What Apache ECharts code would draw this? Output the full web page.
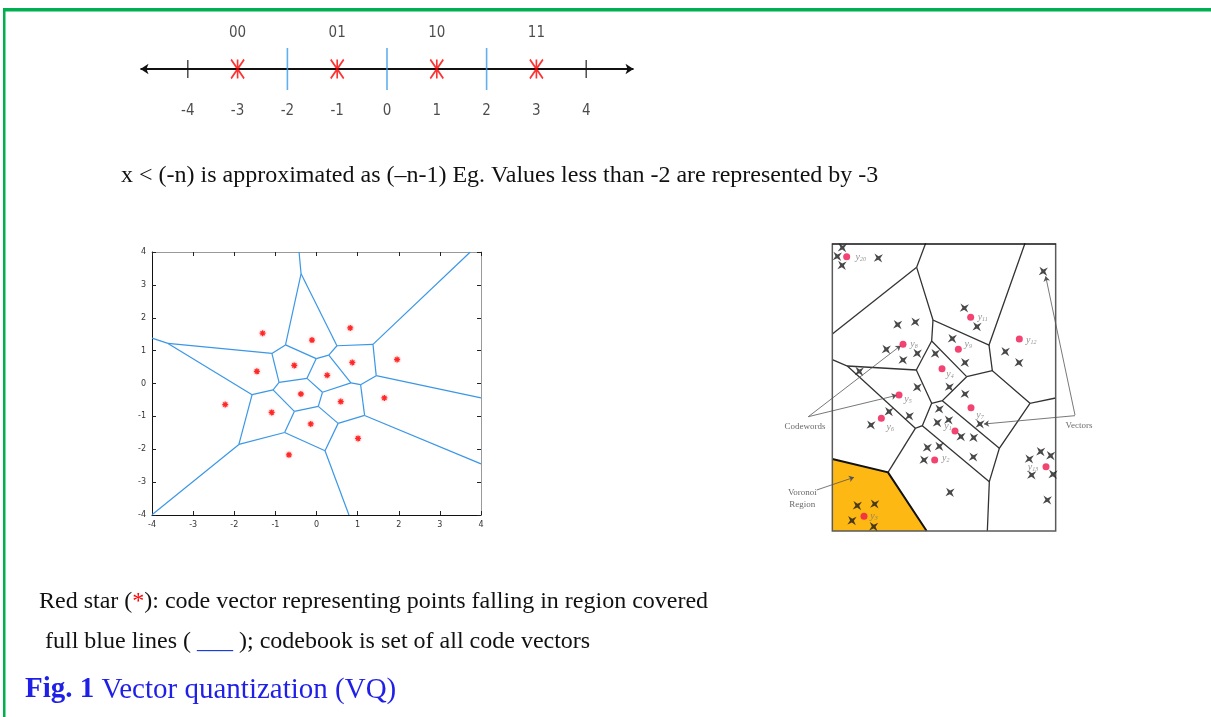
<!DOCTYPE html>
<html>
<head>
<meta charset="utf-8">
<title>Vector quantization (VQ)</title>
<script src="https://cdn.jsdelivr.net/npm/echarts@6/dist/echarts.min.js"></script>
<style>
  html, body { margin: 0; padding: 0; background: #fff; }
  #main { width: 1211px; height: 717px; }
</style>
</head>
<body>
<div id="main"></div>
<script>
// ---------- 1-D scalar quantizer on a number line ----------
const lineTicks = [-4, -3, -2, -1, 0, 1, 2, 3, 4];
const lineEndTicks = [-4, 4];
const lineSpan = [-4.95, 4.95];
const decisionBounds = [-2, 0, 2];
const reproLevels = [-3, -1, 1, 3];
const levelCodes = ['00', '01', '10', '11'];

// ---------- 2-D code vectors (Voronoi sites) ----------
const siteX = [-1.31, -0.11, 0.82, 1.96, -1.45, -0.54, 0.87, 0.26, -2.22, -0.38, 0.59, 1.65, -1.09, -0.14, 1.01, -0.67];
const siteY = [1.53, 1.32, 1.69, 0.73, 0.37, 0.55, 0.64, 0.25, -0.64, -0.32, -0.55, -0.44, -0.88, -1.23, -1.67, -2.17];
const plotTicks = [-4, -3, -2, -1, 0, 1, 2, 3, 4];

// ---------- schematic Voronoi partition (diagram units, y downward) ----------
const frameSides = [[[157, 25], [157, 888], [827, 888], [827, 25]]];
const frameTop = [[157, 25], [827, 25]];
const cellEdges = [
  [[437, 25], [410, 97]],
  [[410, 97], [157, 297]],
  [[410, 97], [459, 255], [627, 330], [735, 25]],
  [[627, 330], [637, 407], [750, 505], [827, 489]],
  [[637, 407], [560, 425]],
  [[750, 505], [658, 640], [628, 740], [622, 888]],
  [[628, 740], [427, 572]],
  [[459, 255], [455, 318], [560, 425]],
  [[455, 318], [409, 405]],
  [[157, 374], [202, 393], [409, 405]],
  [[202, 393], [406, 580], [427, 572], [455, 505], [409, 405]],
  [[455, 505], [487, 497], [560, 425]],
  [[487, 497], [658, 640]],
  [[406, 580], [324, 712]]
];
const regionPoly = [[157, 672], [324, 712], [440, 888], [157, 888]];
const regionEdge = [[157, 672], [324, 712], [440, 888]];

const codewordIds = ['20', '11', '12', '8', '9', '4', '5', '6', '7', '1', '2', '13', '3'];
const codewordX = [200, 572, 718, 369, 535, 486, 357, 304, 573, 525, 464, 798, 252];
const codewordY = [65, 247, 312, 328, 343, 401, 480, 550, 518, 588, 675, 695, 844];

const vectorX = [187, 172, 186, 295, 790, 553, 591, 353, 406, 319, 412, 369, 517, 555, 466, 676, 717, 238, 412, 508, 555, 478, 327, 388, 273, 472, 506, 543, 581, 600, 442, 478, 432, 580, 510, 748, 782, 812, 755, 819, 802, 232, 284, 216, 281];
const vectorY = [38, 64, 91, 69, 109, 219, 275, 269, 261, 343, 355, 375, 311, 383, 356, 350, 383, 409, 457, 456, 477, 522, 530, 543, 570, 563, 555, 605, 608, 567, 638, 634, 675, 666, 772, 672, 650, 662, 720, 718, 795, 812, 807, 857, 875];

const codewordArrows = [[[85, 545], [362, 332]], [[85, 545], [350, 481]]];
const vectorArrows = [[[885, 540], [797, 124]], [[885, 542], [612, 567]]];
const regionArrows = [[[110, 765], [222, 727]]];

// ---------- Voronoi cells of the 2-D sites, clipped to the plot box ----------
const BOX = 4;
function voronoiEdges(xs, ys) {
  const segs = [];
  const seen = new Set();
  const eps = 1e-9;
  for (let i = 0; i < xs.length; i++) {
    let poly = [[-BOX, -BOX], [BOX, -BOX], [BOX, BOX], [-BOX, BOX]];
    for (let j = 0; j < xs.length; j++) {
      if (i === j) continue;
      const nx = xs[j] - xs[i], ny = ys[j] - ys[i];
      const c = nx * (xs[i] + xs[j]) / 2 + ny * (ys[i] + ys[j]) / 2;
      const out = [];
      for (let k = 0; k < poly.length; k++) {
        const P = poly[k], Q = poly[(k + 1) % poly.length];
        const dp = nx * P[0] + ny * P[1] - c;
        const dq = nx * Q[0] + ny * Q[1] - c;
        if (dp <= 0) out.push(P);
        if ((dp < 0 && dq > 0) || (dp > 0 && dq < 0)) {
          const t = dp / (dp - dq);
          out.push([P[0] + (Q[0] - P[0]) * t, P[1] + (Q[1] - P[1]) * t]);
        }
      }
      poly = out;
    }
    for (let k = 0; k < poly.length; k++) {
      const P = poly[k], Q = poly[(k + 1) % poly.length];
      const onX = Math.abs(P[0] - Q[0]) < eps && Math.abs(Math.abs(P[0]) - BOX) < eps;
      const onY = Math.abs(P[1] - Q[1]) < eps && Math.abs(Math.abs(P[1]) - BOX) < eps;
      if (onX || onY) continue;
      const a = P[0].toFixed(4) + ',' + P[1].toFixed(4);
      const b = Q[0].toFixed(4) + ',' + Q[1].toFixed(4);
      const key = a < b ? a + '|' + b : b + '|' + a;
      if (seen.has(key)) continue;
      seen.add(key);
      segs.push({ coords: [P, Q] });
    }
  }
  return segs;
}

const chart = echarts.init(document.getElementById('main'));

const SERIF = '"Liberation Serif", "Times New Roman", serif';
const NARROW = '"DejaVu Sans Condensed", "Liberation Sans Narrow", "Liberation Sans", sans-serif';
const BLUE_EDGE = '#3b97e6';

const starPath = 'path://M50,0 L61,39 L100,50 L61,61 L50,100 L39,61 L0,50 L39,39 Z';
const asteriskPath = 'path://M0,0 L10,14 M10,0 L0,14 M5,0 L5,14';
const plotStarPath = 'path://M5,0 L5,10 M0,5 L10,5 M1.5,1.5 L8.5,8.5 M8.5,1.5 L1.5,8.5';

// label placement around each codeword dot
const codeLabelOffset = {
  '20': [14, 0], '11': [12, -1], '12': [12, 0], '8': [11, -1], '9': [10, -6],
  '4': [8, 5], '5': [9, 3], '6': [9, 8], '7': [9, 7], '1': [-7, -6],
  '2': [11, -3], '13': [-13, 0], '3': [10, -1]
};

const labelRich = {
  y: { fontFamily: SERIF, fontStyle: 'italic', fontSize: 10, color: '#777', verticalAlign: 'bottom', lineHeight: 12 },
  s: { fontFamily: SERIF, fontStyle: 'italic', fontSize: 6, color: '#777', verticalAlign: 'bottom', lineHeight: 9 }
};

const hiddenAxis = (gridIndex, min, max, inverse) => ({
  gridIndex, type: 'value', min, max, inverse: !!inverse, show: false
});

const plotAxisBase = {
  type: 'value', min: -4, max: 4, interval: 1, gridIndex: 1,
  splitLine: { show: false },
  axisTick: { show: true, inside: true, length: 4, lineStyle: { color: '#222', width: 1 } }
};

const numberFont = { fontFamily: NARROW, fontSize: 15, color: '#1e1e1e' };

const option = {
  backgroundColor: '#fff',
  animation: false,
  grid: [
    { left: 138, top: 19, width: 498, height: 100 },
    { left: 152, top: 252, width: 329, height: 263, show: false },
    { left: 770, top: 235, width: 330, height: 305 }
  ],
  xAxis: [
    hiddenAxis(0, -5, 5),
    Object.assign({}, plotAxisBase, {
      position: 'bottom',
      axisLine: { show: true, onZero: false, lineStyle: { color: '#111', width: 1 } },
      axisLabel: { fontSize: 8, color: '#333', margin: 6, fontFamily: 'DejaVu Sans, sans-serif' }
    }),
    Object.assign({}, plotAxisBase, {
      position: 'top',
      axisLine: { show: true, onZero: false, lineStyle: { color: '#999', width: 1 } },
      axisLabel: { show: false }
    }),
    hiddenAxis(2, -30, 960)
  ],
  yAxis: [
    hiddenAxis(0, -1, 1),
    Object.assign({}, plotAxisBase, {
      position: 'left',
      axisLine: { show: true, onZero: false, lineStyle: { color: '#111', width: 1 } },
      axisLabel: { fontSize: 8, color: '#333', margin: 6, fontFamily: 'DejaVu Sans, sans-serif' }
    }),
    Object.assign({}, plotAxisBase, {
      position: 'right',
      axisLine: { show: true, onZero: false, lineStyle: { color: '#999', width: 1 } },
      axisLabel: { show: false }
    }),
    hiddenAxis(2, 0, 915, true)
  ],
  series: [
    // ---- number line ----
    {
      type: 'lines', coordinateSystem: 'cartesian2d', xAxisIndex: 0, yAxisIndex: 0,
      symbol: ['arrow', 'arrow'], symbolSize: 8,
      lineStyle: { color: '#111', width: 1.8, opacity: 1 },
      data: [{ coords: [[lineSpan[0], 0], [lineSpan[1], 0]] }], z: 2
    },
    {
      type: 'scatter', xAxisIndex: 0, yAxisIndex: 0, symbol: 'rect', symbolSize: [1.4, 18],
      itemStyle: { color: '#111' }, data: lineEndTicks.map(v => [v, 0]), z: 3
    },
    {
      type: 'scatter', xAxisIndex: 0, yAxisIndex: 0, symbol: 'rect', symbolSize: [1.6, 42],
      itemStyle: { color: '#3a9bea' }, data: decisionBounds.map(v => [v, 0]), z: 3
    },
    {
      type: 'scatter', xAxisIndex: 0, yAxisIndex: 0, symbol: asteriskPath, symbolSize: [13, 19],
      itemStyle: { color: 'transparent', borderColor: '#f00', borderWidth: 2 },
      data: reproLevels.map(v => [v, 0]), z: 4
    },
    {
      type: 'scatter', xAxisIndex: 0, yAxisIndex: 0, symbolSize: 0,
      data: reproLevels.map((v, i) => ({ value: [v, 0], name: levelCodes[i] })),
      label: Object.assign({ show: true, position: 'inside', offset: [0, -36], formatter: p => p.name }, numberFont),
      z: 4
    },
    {
      type: 'scatter', xAxisIndex: 0, yAxisIndex: 0, symbolSize: 0,
      data: lineTicks.map(v => [v, 0]),
      label: Object.assign({ show: true, position: 'inside', offset: [0, 42], formatter: p => String(p.value[0]) }, numberFont),
      z: 4
    },

    // ---- 2-D Voronoi plot ----
    {
      type: 'lines', coordinateSystem: 'cartesian2d', xAxisIndex: 1, yAxisIndex: 1,
      lineStyle: { color: BLUE_EDGE, width: 1.2, opacity: 1 },
      data: voronoiEdges(siteX, siteY), z: 2
    },
    {
      type: 'scatter', xAxisIndex: 1, yAxisIndex: 1, symbol: plotStarPath, symbolSize: 6,
      itemStyle: { color: 'transparent', borderColor: '#f00', borderWidth: 1.3, shadowColor: 'rgba(255,80,80,0.6)', shadowBlur: 3 },
      data: siteX.map((x, i) => [x, siteY[i]]), z: 4
    },

    // ---- schematic partition ----
    {
      type: 'custom', xAxisIndex: 3, yAxisIndex: 3,
      renderItem: (params, api) => ({
        type: 'polygon',
        shape: { points: regionPoly.map(p => api.coord(p)) },
        style: { fill: '#fdb813' }
      }),
      data: [0], z: 1
    },
    {
      type: 'lines', coordinateSystem: 'cartesian2d', xAxisIndex: 3, yAxisIndex: 3, polyline: true,
      lineStyle: { color: '#333', width: 1.3, opacity: 1 },
      data: cellEdges.map(c => ({ coords: c })), z: 2
    },
    {
      type: 'lines', coordinateSystem: 'cartesian2d', xAxisIndex: 3, yAxisIndex: 3, polyline: true,
      lineStyle: { color: '#111', width: 2, opacity: 1 },
      data: [{ coords: regionEdge }], z: 2
    },
    {
      type: 'lines', coordinateSystem: 'cartesian2d', xAxisIndex: 3, yAxisIndex: 3, polyline: true,
      lineStyle: { color: '#5a5a5a', width: 1.5, opacity: 1 },
      data: frameSides.map(c => ({ coords: c })), z: 3
    },
    {
      type: 'lines', coordinateSystem: 'cartesian2d', xAxisIndex: 3, yAxisIndex: 3,
      lineStyle: { color: '#111', width: 1.5, opacity: 1 },
      data: [{ coords: frameTop }], z: 3
    },
    {
      type: 'lines', coordinateSystem: 'cartesian2d', xAxisIndex: 3, yAxisIndex: 3,
      symbol: ['none', 'arrow'], symbolSize: 5,
      lineStyle: { color: '#555', width: 0.8, opacity: 1 },
      data: codewordArrows.concat(vectorArrows, regionArrows).map(c => ({ coords: c })), z: 3
    },
    {
      type: 'scatter', xAxisIndex: 3, yAxisIndex: 3, symbol: starPath, symbolSize: 12, symbolRotate: 40,
      itemStyle: { color: '#1a1a1a' },
      data: vectorX.map((x, i) => [x, vectorY[i]]), z: 4
    },
    {
      type: 'scatter', xAxisIndex: 3, yAxisIndex: 3, symbol: 'circle', symbolSize: 7,
      itemStyle: { color: '#f0144e' },
      data: codewordX.map((x, i) => ({
        value: [x, codewordY[i]], name: codewordIds[i],
        label: { offset: codeLabelOffset[codewordIds[i]] }
      })),
      label: {
        show: true, position: 'inside',
        formatter: p => '{y|y}{s|' + p.name + '}', rich: labelRich
      }, z: 5
    },
    {
      type: 'scatter', xAxisIndex: 3, yAxisIndex: 3, symbolSize: 0,
      data: [
        { value: [75, 575], name: 'Codewords' },
        { value: [897, 572], name: 'Vectors' },
        { value: [67, 790], name: 'Voronoi\nRegion' }
      ],
      label: {
        show: true, position: 'inside', formatter: p => p.name,
        fontFamily: SERIF, fontSize: 9, color: '#444', lineHeight: 12
      }, z: 5
    }
  ],
  graphic: [
    { type: 'rect', shape: { x: 3, y: 8, width: 1208, height: 3.5 }, style: { fill: '#00b050' } },
    { type: 'rect', shape: { x: 3, y: 8, width: 2.5, height: 709 }, style: { fill: '#00b050' } },
    {
      type: 'text', x: 121, y: 176,
      style: {
        text: 'x < (-n) is approximated as (\u2013n-1) Eg. Values less than -2 are represented by -3',
        font: '24px ' + SERIF, fill: '#111', verticalAlign: 'middle'
      }
    },
    {
      type: 'text', x: 39, y: 602,
      style: {
        text: '{a|Red star (}{r|*}{a|): code vector representing points falling in region covered}',
        font: '24px ' + SERIF, fill: '#111', verticalAlign: 'middle',
        rich: { a: { font: '24px ' + SERIF, fill: '#111' }, r: { font: '24px ' + SERIF, fill: '#f00' } }
      }
    },
    {
      type: 'text', x: 45, y: 642,
      style: {
        text: '{a|full blue lines ( }{b|___}{a| ); codebook is set of all code vectors}',
        font: '24px ' + SERIF, fill: '#111', verticalAlign: 'middle',
        rich: { a: { font: '24px ' + SERIF, fill: '#111' }, b: { font: '24px ' + SERIF, fill: '#1a3fd6' } }
      }
    },
    {
      type: 'text', x: 25, y: 690,
      style: {
        text: '{b|Fig. 1} {a|Vector quantization (VQ)}',
        font: '29px ' + SERIF, fill: '#1f1fe8', verticalAlign: 'middle',
        rich: {
          b: { font: 'bold 29px ' + SERIF, fill: '#1f1fe8' },
          a: { font: '29px ' + SERIF, fill: '#1f1fe8' }
        }
      }
    }
  ]
};

chart.setOption(option);
</script>
</body>
</html>
